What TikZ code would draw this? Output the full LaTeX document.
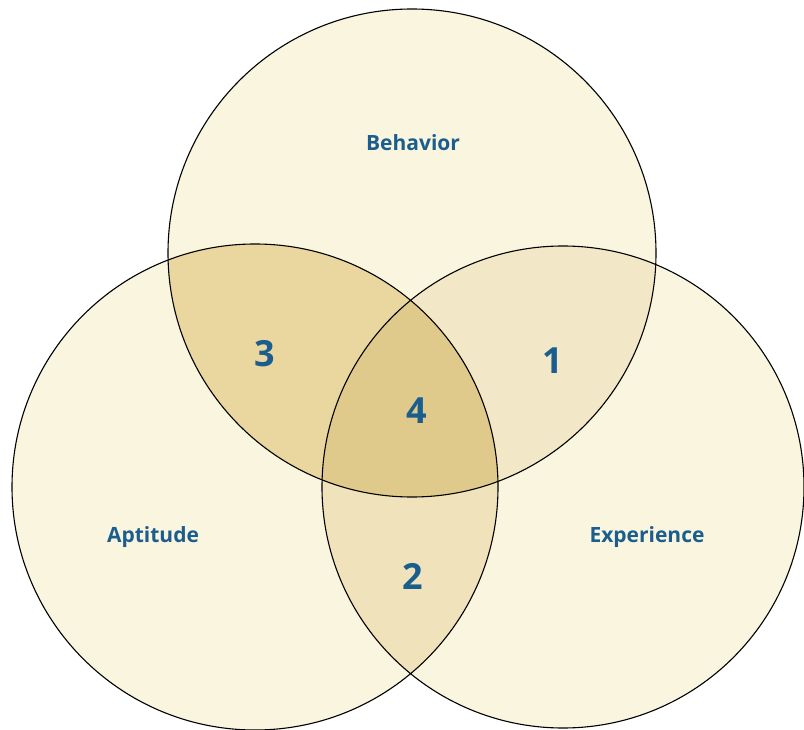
\documentclass[tikz,border=0pt]{standalone}
\usepackage{fontspec}
\setmainfont{Open Sans}
\usetikzlibrary{positioning}
\definecolor{setfill}{HTML}{FAF5DF}
\definecolor{fillBE}{HTML}{F2E8C7}
\definecolor{fillAB}{HTML}{EAD79F}
\definecolor{fillAE}{HTML}{F0E3BB}
\definecolor{fillABE}{HTML}{DFC98B}
\definecolor{labelblue}{HTML}{1B5E8E}
\tikzset{set label/.style={text=labelblue,font=\bfseries\fontsize{21}{24}\selectfont},
            region label/.style={text=labelblue,font=\bfseries\fontsize{36}{40}\selectfont},
            }

\begin{document}
\begin{tikzpicture}[x=1pt,y=-1pt]
    \useasboundingbox (0,0) rectangle (804,730);
    \coordinate (B) at (412,253);
    \coordinate (A) at (255,487);
    \coordinate (E) at (563,487);

    \fill[setfill] (B) circle (244) (A) circle (243) (E) circle (241);
    \begin{scope}
      \clip (B) circle (244);
      \fill[fillBE] (E) circle (241);
      \fill[fillAB] (A) circle (243);
      \clip (A) circle (243);
      \fill[fillABE] (E) circle (241);
    \end{scope}
    \begin{scope}
      \clip (A) circle (243);
      \clip (E) circle (241);
      \fill[fillAE] (A) circle (243);
      \clip (B) circle (244);
      \fill[fillABE] (B) circle (244);
    \end{scope}
    \draw[line width=1.1pt] (B) circle (244) (A) circle (243) (E) circle (241);

    \node[set label] (behavior) at (413,143) {Behavior};
    \node[set label] (aptitude) at (153,537) {Aptitude};
    \node[set label] (experience) at (647,537) {Experience};
    \node[region label] (r1) at (553,361) {1};
    \node[region label] (r2) at (413,576) {2};
    \node[region label] (r3) at (265,354) {3};
    \node[region label] (r4) at (417,411) {4};
  \end{tikzpicture}
\end{document}
